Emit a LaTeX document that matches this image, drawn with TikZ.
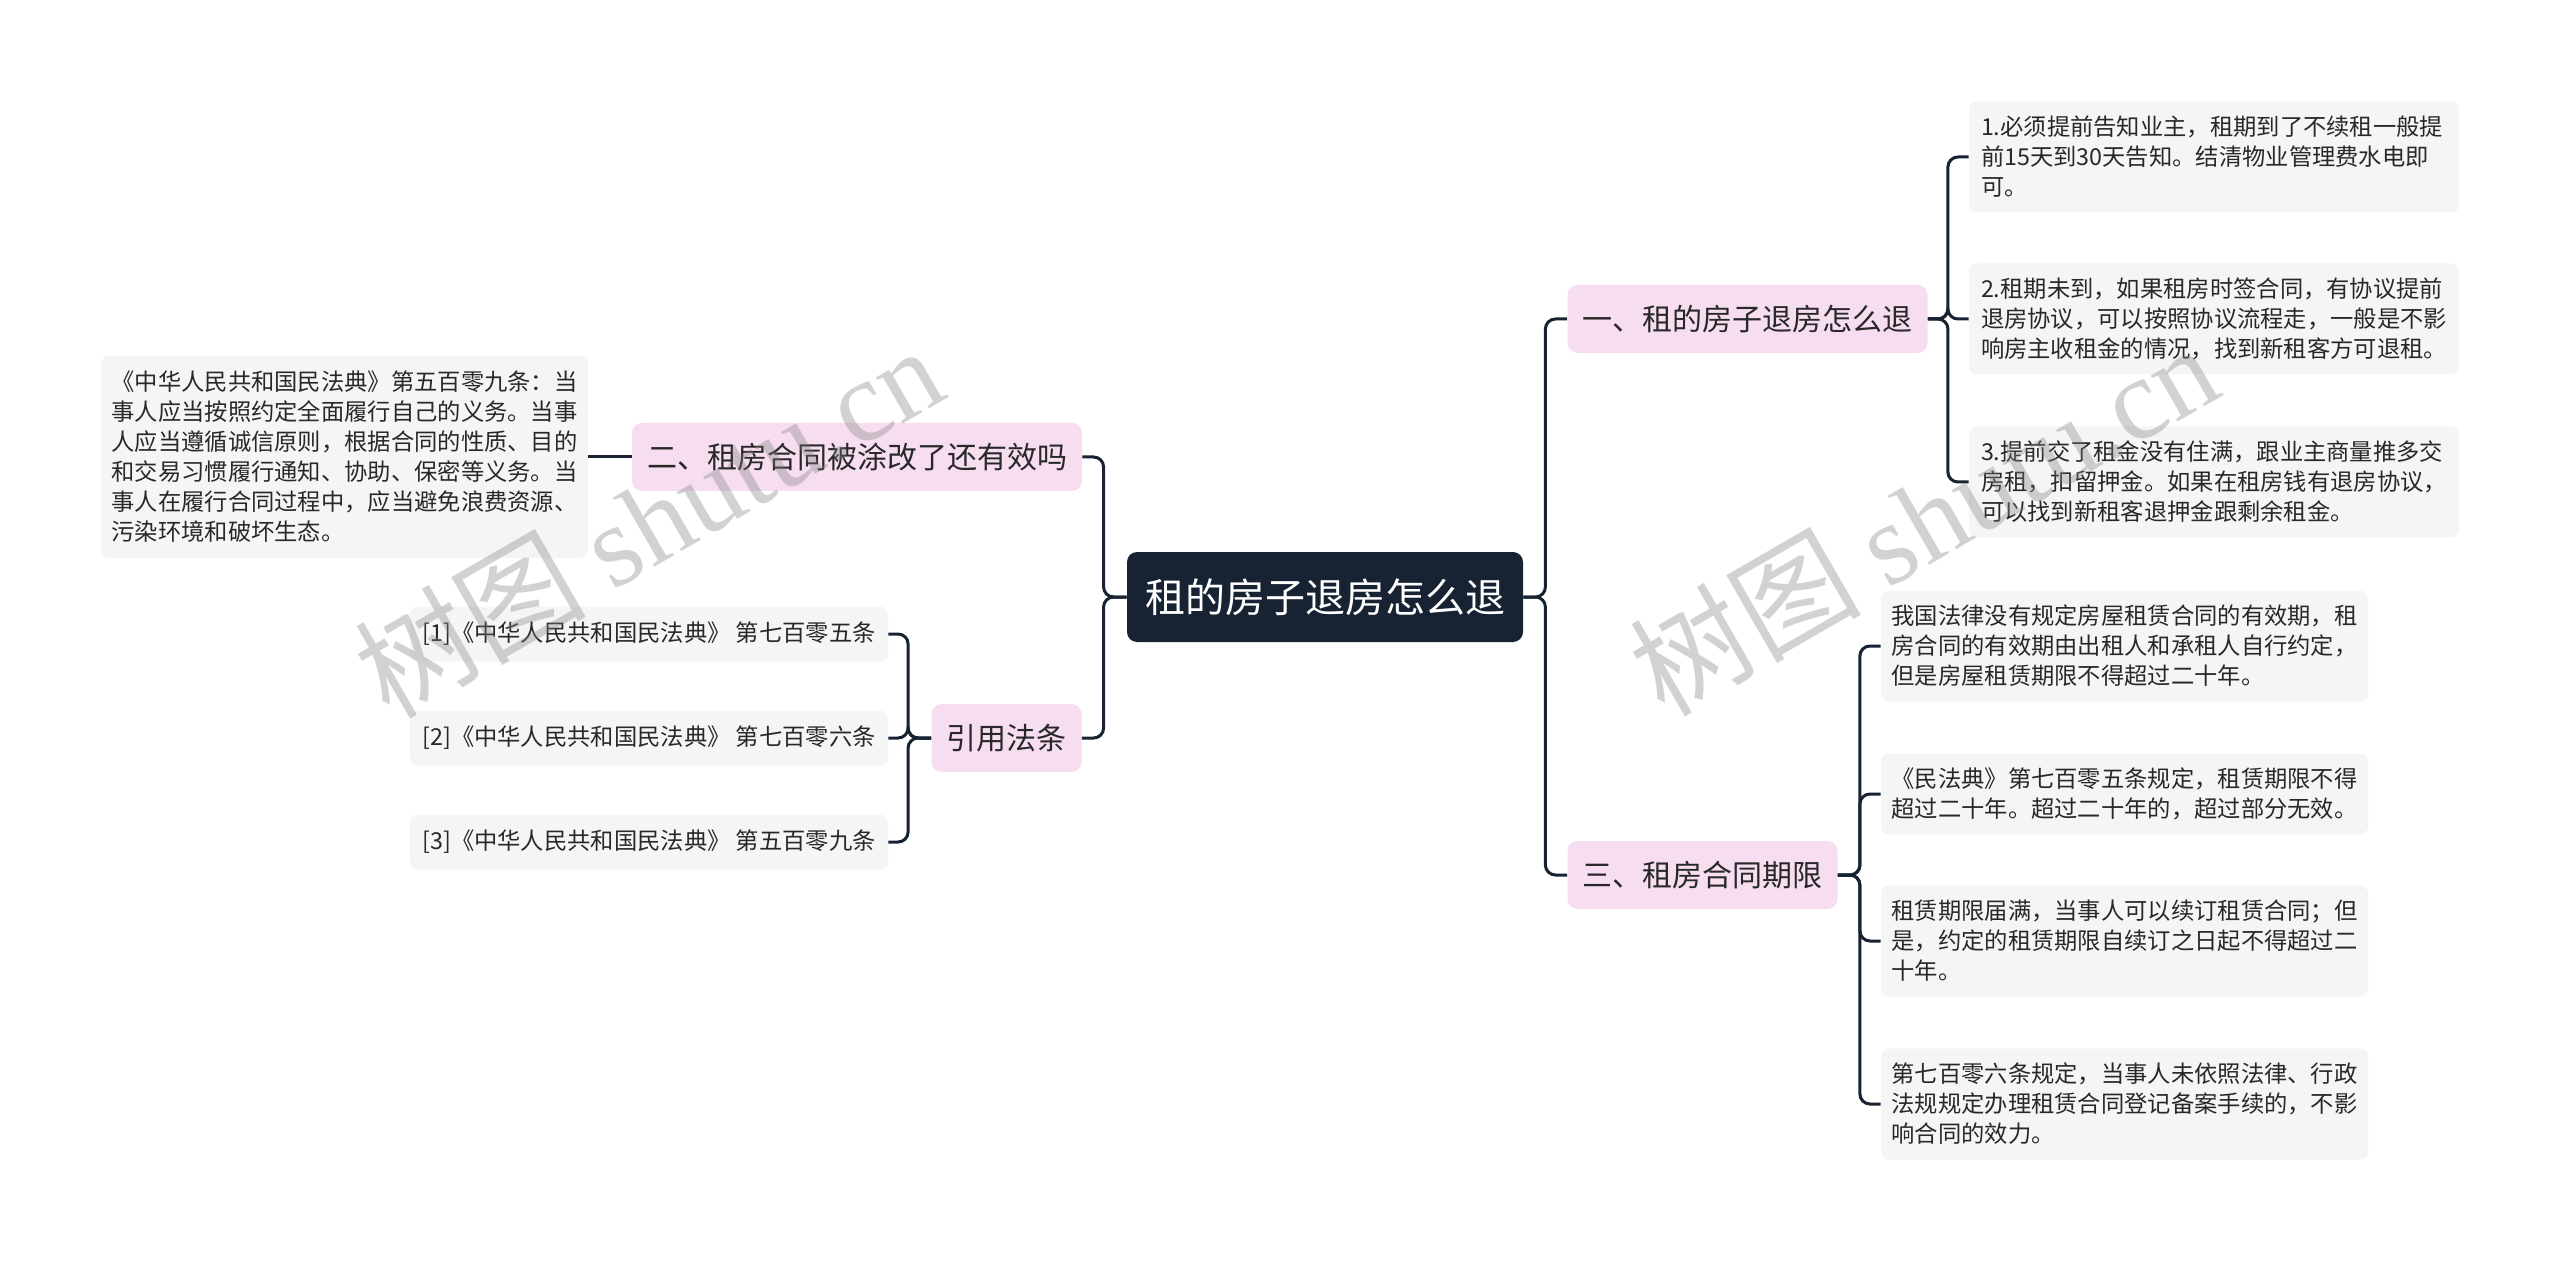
\documentclass[tikz,border=0pt]{standalone}
\usepackage{fontspec}
\setmainfont{Noto Sans CJK SC}
\newfontfamily\wmlatin{Liberation Serif}
\newfontfamily\wmcjk{Noto Sans CJK SC}
\definecolor{navy}{RGB}{23,34,50}
\definecolor{pinkc}{RGB}{246,221,240}
\definecolor{leafc}{RGB}{245,245,245}
\definecolor{txt}{RGB}{40,40,40}
\tikzset{
  rootbox/.style={fill=navy, text=white, rounded corners=5pt, font=\fontsize{20pt}{24pt}\selectfont, minimum width=198pt, minimum height=45pt, inner sep=0pt},
  branchbox/.style={fill=pinkc, text=txt, rounded corners=5pt, font=\fontsize{15pt}{18pt}\selectfont, minimum height=34pt, inner xsep=7.5pt, inner ysep=0pt},
  leafbox/.style={fill=leafc, text=txt, rounded corners=4pt, font=\fontsize{11.65pt}{15pt}\selectfont, text width=233pt, align=left, inner xsep=6pt, inner ysep=0pt},
  refbox/.style={fill=leafc, text=txt, rounded corners=4pt, font=\fontsize{11.65pt}{15pt}\selectfont, inner xsep=6pt, inner ysep=0pt, minimum height=27.5pt},
  conn/.style={draw=navy, line width=1.5pt, rounded corners=5pt},
  wmark/.style={rotate=30, text=gray, opacity=0.35, font=\fontsize{58pt}{60pt}\selectfont, inner sep=0pt}
}
\begin{document}
\begin{tikzpicture}[x=0.5pt,y=-0.5pt]
\useasboundingbox[fill=white] (0,0) rectangle (2560,1262);

% root
\node[rootbox] (root) at (1325,597) {租的房子退房怎么退};

% right branches
\node[branchbox] (b1) at (1747.5,319) {一、租的房子退房怎么退};
\node[branchbox] (b3) at (1702.5,875) {三、租房合同期限};
% left branches
\node[branchbox] (b2) at (857,457) {二、租房合同被涂改了还有效吗};
\node[branchbox] (b4) at (1006.5,738) {引用法条};

% leaves of b1
\node[leafbox, minimum height=55.5pt] (l11) at (2214,157) {1.必须提前告知业主，租期到了不续租一般提\\前15天到30天告知。结清物业管理费水电即\\可。};
\node[leafbox, minimum height=55.5pt] (l12) at (2214,319) {2.租期未到，如果租房时签合同，有协议提前\\退房协议，可以按照协议流程走，一般是不影\\响房主收租金的情况，找到新租客方可退租。};
\node[leafbox, minimum height=55.5pt] (l13) at (2214,482) {3.提前交了租金没有住满，跟业主商量推多交\\房租，扣留押金。如果在租房钱有退房协议，\\可以找到新租客退押金跟剩余租金。};

% leaves of b3
\node[leafbox, inner xsep=5.25pt, minimum height=55.5pt] (l31) at (2124.5,646) {我国法律没有规定房屋租赁合同的有效期，租\\房合同的有效期由出租人和承租人自行约定，\\但是房屋租赁期限不得超过二十年。};
\node[leafbox, inner xsep=5.25pt, minimum height=40.5pt] (l32) at (2124.5,794) {《民法典》第七百零五条规定，租赁期限不得\\超过二十年。超过二十年的，超过部分无效。};
\node[leafbox, inner xsep=5.25pt, minimum height=55.5pt] (l33) at (2124.5,941) {租赁期限届满，当事人可以续订租赁合同；但\\是，约定的租赁期限自续订之日起不得超过二\\十年。};
\node[leafbox, inner xsep=5.25pt, minimum height=55.5pt] (l34) at (2124.5,1104) {第七百零六条规定，当事人未依照法律、行政\\法规规定办理租赁合同登记备案手续的，不影\\响合同的效力。};

% leaf of b2
\node[leafbox, inner xsep=5.25pt, minimum height=101pt] (l21) at (344.5,457) {《中华人民共和国民法典》第五百零九条：当\\事人应当按照约定全面履行自己的义务。当事\\人应当遵循诚信原则，根据合同的性质、目的\\和交易习惯履行通知、协助、保密等义务。当\\事人在履行合同过程中，应当避免浪费资源、\\污染环境和破坏生态。};

% refs of b4
\node[refbox, minimum width=239pt] (r1) at (649,634) {[1]《中华人民共和国民法典》 第七百零五条};
\node[refbox, minimum width=239pt] (r2) at (649,738) {[2]《中华人民共和国民法典》 第七百零六条};
\node[refbox, minimum width=239pt] (r3) at (649,842) {[3]《中华人民共和国民法典》 第五百零九条};

% connectors
\draw[conn] (root.east) -- ++(11pt,0) |- (b1.west);
\draw[conn] (root.east) -- ++(11pt,0) |- (b3.west);
\draw[conn] (root.west) -- ++(-11.5pt,0) |- (b2.east);
\draw[conn] (root.west) -- ++(-11.5pt,0) |- (b4.east);

\draw[conn] (b1.east) -- ++(10pt,0) |- (l11.west);
\draw[conn] (b1.east) -- ++(10pt,0) |- (l12.west);
\draw[conn] (b1.east) -- ++(10pt,0) |- (l13.west);

\draw[conn] (b3.east) -- ++(11pt,0) |- (l31.west);
\draw[conn] (b3.east) -- ++(11pt,0) |- (l32.west);
\draw[conn] (b3.east) -- ++(11pt,0) |- (l33.west);
\draw[conn] (b3.east) -- ++(11pt,0) |- (l34.west);

\draw[conn] (b2.west) -- (l21.east);

\draw[conn] (b4.west) -- ++(-11.5pt,0) |- (r1.east);
\draw[conn] (b4.west) -- ++(-11.5pt,0) |- (r2.east);
\draw[conn] (b4.west) -- ++(-11.5pt,0) |- (r3.east);

% watermarks
\node[wmark] (wm1) at (648,520) {\wmcjk 树图\ \wmlatin shutu.cn};
\node[wmark] (wm2) at (1923,518) {\wmcjk 树图\ \wmlatin shutu.cn};
\end{tikzpicture}
\end{document}
